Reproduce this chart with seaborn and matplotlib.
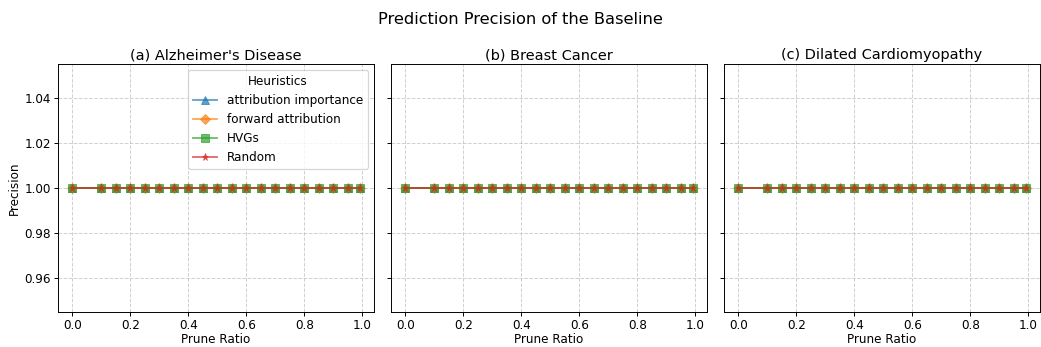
import matplotlib
matplotlib.use("Agg")
import matplotlib.pyplot as plt
import seaborn as sns
import pandas as pd

# --- data ---
prune_ratios = [0.0, 0.1, 0.15, 0.2, 0.25, 0.3, 0.35, 0.4, 0.45, 0.5,
                0.55, 0.6, 0.65, 0.7, 0.75, 0.8, 0.85, 0.9, 0.95, 0.99]
datasets = ["(a) Alzheimer's Disease", "(b) Breast Cancer", "(c) Dilated Cardiomyopathy"]
heuristics = ["attribution importance", "forward attribution", "HVGs", "Random"]
markers = ["^", "D", "s", "*"]
colors = ["#1f77b4", "#ff7f0e", "#2ca02c", "#d62728"]
precision_ad = [1.0] * len(prune_ratios)
precision_bc = [1.0] * len(prune_ratios)
precision_dcm = [1.0] * len(prune_ratios)
precision = [precision_ad, precision_bc, precision_dcm]

fig, axes = plt.subplots(1, 3, figsize=(12, 4), dpi=86.75, sharey=True)

for ax, title, vals in zip(axes, datasets, precision):
    for h, m, c in zip(heuristics, markers, colors):
        df = pd.DataFrame({"Prune Ratio": prune_ratios, "Precision": vals})
        sns.lineplot(data=df, x="Prune Ratio", y="Precision", ax=ax, marker=m,
                     color=c, label=h, alpha=0.7, markersize=6,
                     markeredgecolor=c)
    ax.set_title(title, fontsize=12, pad=4)
    ax.grid(True, linestyle="--", alpha=0.6)
    ax.set_ylim(0.945, 1.055)
    ax.set_xticks([0.0, 0.2, 0.4, 0.6, 0.8, 1.0])
    ax.tick_params(axis="y", pad=2.5)
    ax.tick_params(axis="x", pad=2.5)
    ax.xaxis.labelpad = 1
    if ax is not axes[0]:
        ax.get_legend().remove()
        ax.set_ylabel("")

axes[0].yaxis.labelpad = 3
axes[0].legend(title="Heuristics", loc="upper right", fontsize=10, title_fontsize=10)
fig.suptitle("Prediction Precision of the Baseline", fontsize=13.5, y=0.965)
fig.subplots_adjust(left=0.0557, right=0.999, top=0.8156, bottom=0.1009, wspace=0.054)
plt.savefig("out.png")
